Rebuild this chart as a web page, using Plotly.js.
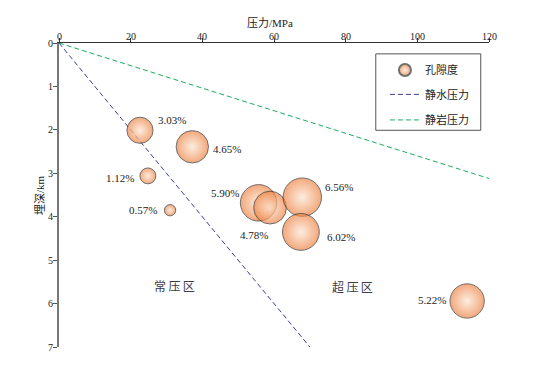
<!DOCTYPE html>
<html>
<head>
<meta charset="utf-8">
<script src="https://cdn.plot.ly/plotly-3.0.1.min.js"></script>
<style>html,body{margin:0;padding:0;background:#fff;}#chart{width:543px;height:368px;}</style>
</head>
<body>
<div id="chart"></div>
<script>
// ---- data ----
const pressure = [22.6, 37.2, 24.8, 31.0, 55.7, 58.9, 67.9, 67.5, 113.9];   // MPa
const depth    = [2.01, 2.39, 3.06, 3.85, 3.68, 3.79, 3.55, 4.35, 5.94];    // km
const porosity = [3.03, 4.65, 1.12, 0.57, 5.90, 4.78, 6.56, 6.02, 5.22];    // %
const hydroX = [0, 70];
const hydroY = [0, 7];
const lithoX = [0, 120];
const lithoY = [0, 3.12];
const xTicks = [0, 20, 40, 60, 80, 100, 120];
const yTicks = [0, 1, 2, 3, 4, 5, 6, 7];
const zoneNames = ['常压区', '超压区'];
const zoneX = [32.1, 82.0];
const zoneY = [5.62, 5.62];
const seriesNames = ['孔隙度', '静水压力', '静岩压力'];
const xTitle = '压力/MPa';
const yTitle = '埋深/km';

// label offsets (px) — styling only
const labelShiftX = [32, 35, -28, -27, -34, -16, 37, 40, -35];
const labelShiftY = [10, -2, -2, 0, 10, -27, 10, -5, 1];

const FONT = 'Liberation Serif, Noto Sans CJK SC, serif';

const traces = [
  {
    x: hydroX, y: hydroY, mode: 'lines', name: seriesNames[1], legend: 'legend2',
    line: {color: '#3b3ba6', width: 1, dash: '5px,3px'}
  },
  {
    x: lithoX, y: lithoY, mode: 'lines', name: seriesNames[2], legend: 'legend3',
    line: {color: '#1faa60', width: 1, dash: '5px,3px'}
  },
  {
    x: pressure, y: depth, mode: 'markers', name: seriesNames[0], legend: 'legend',
    marker: {
      size: porosity, sizemode: 'area', sizeref: 2/225,
      color: '#ee8444',
      gradient: {type: 'radial', color: '#fde6d4'},
      line: {color: '#333333', width: 1}
    },
    cliponaxis: false
  }
];

const annotations = porosity.map((p, i) => ({
  x: pressure[i], y: depth[i], xref: 'x', yref: 'y',
  text: p.toFixed(2) + '%', showarrow: false,
  xshift: labelShiftX[i], yshift: labelShiftY[i],
  font: {family: FONT, size: 11, color: '#222'}
})).concat(zoneNames.map((t, i) => ({
  x: zoneX[i], y: zoneY[i], xref: 'x', yref: 'y',
  text: t.split('').join('\u2009'), showarrow: false,
  font: {family: FONT, size: 12, color: '#3a3a4a'}
}))).concat(xTicks.map(v => ({
  x: v, y: 1, xref: 'x', yref: 'paper', yshift: 7, yanchor: 'middle',
  text: String(v), showarrow: false, font: {family: FONT, size: 10, color: '#222'}
}))).concat([
  {xref: 'paper', yref: 'paper', x: 0.49, y: 1, yshift: 20, yanchor: 'middle',
   text: xTitle, showarrow: false, font: {family: FONT, size: 11, color: '#222'}},
  {xref: 'paper', yref: 'paper', x: 0, y: 0.5, xshift: -19, xanchor: 'center', yanchor: 'middle',
   textangle: -90, text: yTitle, showarrow: false, font: {family: FONT, size: 11, color: '#222'}}
]);

const legendCommon = {
  xanchor: 'left', yanchor: 'middle', bgcolor: 'rgba(0,0,0,0)', borderwidth: 0,
  font: {family: FONT, size: 11, color: '#222'}
};

const layout = {
  width: 543, height: 368,
  margin: {l: 59, r: 54, t: 43, b: 21},
  paper_bgcolor: '#fff', plot_bgcolor: '#fff',
  font: {family: FONT, size: 10, color: '#222'},
  xaxis: {
    side: 'top', range: [0, 120], tickvals: xTicks, showticklabels: false,
    ticks: 'outside', ticklen: 4, tickcolor: '#333', showline: true,
    linecolor: '#333', linewidth: 1,
    showgrid: false, zeroline: false
  },
  yaxis: {
    range: [7, 0], tickvals: yTicks, ticktext: yTicks.map(String),
    ticks: 'outside', ticklen: 4, tickcolor: '#555', showline: true,
    linecolor: '#777', linewidth: 2, showgrid: false, zeroline: false,
    ticklabelstandoff: -2,
    tickfont: {family: FONT, size: 10, color: '#222'}
  },
  showlegend: true,
  legend:  Object.assign({x: 0.758, y: 0.911, itemsizing: 'constant'}, legendCommon),
  legend2: Object.assign({x: 0.758, y: 0.831}, legendCommon),
  legend3: Object.assign({x: 0.758, y: 0.747}, legendCommon),
  shapes: [
    {type: 'rect', xref: 'x', yref: 'y', x0: 88.4, x1: 117.7, y0: 0.25, y1: 2.01,
     line: {color: '#555', width: 1}}
  ],
  annotations: annotations
};

Plotly.newPlot('chart', traces, layout, {displayModeBar: false, staticPlot: true});
</script>
</body>
</html>
